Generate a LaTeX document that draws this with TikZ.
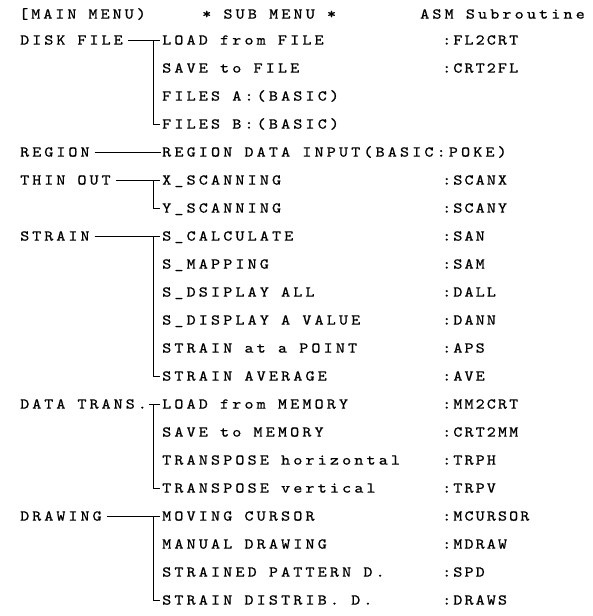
\documentclass[tikz,border=0pt]{standalone}
\usepackage{fontspec}
\usepackage{tikz}
\usetikzlibrary{positioning}
\newfontfamily\mmfont{lmmono10-regular.otf}[LetterSpace=20,FakeStretch=1.15,FakeBold=0.8]
\newfontfamily\smfont{lmmono10-regular.otf}[LetterSpace=21,FakeStretch=1.15,FakeBold=0.8]
\newfontfamily\amfont{lmmono10-regular.otf}[LetterSpace=14,FakeStretch=1.15,FakeBold=0.8]

\begin{document}
\begin{tikzpicture}
    [x=1pt,y=-1pt,
     every node/.style={anchor=west,inner xsep=0pt,inner ysep=0pt,text height=9.2pt,text depth=0pt},
     mm/.style={font=\mmfont\fontsize{15}{17}\selectfont},
     sm/.style={font=\smfont\fontsize{15}{17}\selectfont},
     am/.style={font=\amfont\fontsize{15}{17}\selectfont},
     ln/.style={line width=0.7pt}]
    \useasboundingbox (0,0) rectangle (592,616);
    \coordinate (bx) at (153,0);

    % headings
    \node[mm] (hm) at (19,14)  {[MAIN MENU)};
    \node[sm] (hs) at (202,14) {* SUB MENU *};
    \node[sm] (ha) at (420,14) {ASM Subroutine};

    % main menu
    \node[mm] (nd) at (20,40)  {DISK FILE};
    \node[mm] (nr) at (20,152) {REGION};
    \node[mm] (nt) at (20,180) {THIN OUT};
    \node[mm] (ns) at (20,236) {STRAIN};
    \node[mm] (nx) at (20,404) {DATA TRANS.};
    \node[mm] (nw) at (20,516) {DRAWING};

    % sub menu
    \node[sm] (d0) at (162,40)  {LOAD from FILE};
    \node[sm] (d1) at (162,68)  {SAVE to FILE};
    \node[sm] (d2) at (162,96)  {FILES A:(BASIC)};
    \node[sm] (d3) at (162,124) {FILES B:(BASIC)};
    \node[sm] (r0) at (162,152) {REGION DATA INPUT(BASIC:POKE)};
    \node[sm] (t0) at (162,180) {X\_SCANNING};
    \node[sm] (t1) at (162,208) {Y\_SCANNING};
    \node[sm] (s0) at (162,236) {S\_CALCULATE};
    \node[sm] (s1) at (162,264) {S\_MAPPING};
    \node[sm] (s2) at (162,292) {S\_DSIPLAY ALL};
    \node[sm] (s3) at (162,320) {S\_DISPLAY A VALUE};
    \node[sm] (s4) at (162,348) {STRAIN at a POINT};
    \node[sm] (s5) at (162,376) {STRAIN AVERAGE};
    \node[sm] (x0) at (162,404) {LOAD from MEMORY};
    \node[sm] (x1) at (162,432) {SAVE to MEMORY};
    \node[sm] (x2) at (162,460) {TRANSPOSE horizontal};
    \node[sm] (x3) at (162,488) {TRANSPOSE vertical};
    \node[sm] (w0) at (162,516) {MOVING CURSOR};
    \node[sm] (w1) at (162,544) {MANUAL DRAWING};
    \node[sm] (w2) at (162,572) {STRAINED PATTERN D.};
    \node[sm] (w3) at (162,600) {STRAIN DISTRIB. D.};

    % asm subroutines
    \node[am] (ad0) at (442,40)  {:FL2CRT};
    \node[am] (ad1) at (442,68)  {:CRT2FL};
    \node[am] (at0) at (442,180) {:SCANX};
    \node[am] (at1) at (442,208) {:SCANY};
    \node[am] (as0) at (442,236) {:SAN};
    \node[am] (as1) at (442,264) {:SAM};
    \node[am] (as2) at (442,292) {:DALL};
    \node[am] (as3) at (442,320) {:DANN};
    \node[am] (as4) at (442,348) {:APS};
    \node[am] (as5) at (442,376) {:AVE};
    \node[am] (ax0) at (442,404) {:MM2CRT};
    \node[am] (ax1) at (442,432) {:CRT2MM};
    \node[am] (ax2) at (442,460) {:TRPH};
    \node[am] (ax3) at (442,488) {:TRPV};
    \node[am] (aw0) at (442,516) {:MCURSOR};
    \node[am] (aw1) at (442,544) {:MDRAW};
    \node[am] (aw2) at (442,572) {:SPD};
    \node[am] (aw3) at (442,600) {:DRAWS};

    % brackets
    \draw[ln] ([xshift=5pt]nd.east) -- ([xshift=-2pt]d0.west);
    \draw[ln] (d0.west -| bx) |- ([xshift=-2pt]d3.west);
    \draw[ln] ([xshift=5pt]nr.east) -- ([xshift=-1pt]r0.west);
    \draw[ln] ([xshift=5pt]nt.east) -- ([xshift=-2pt]t0.west);
    \draw[ln] (t0.west -| bx) |- ([xshift=-2pt]t1.west);
    \draw[ln] ([xshift=5pt]ns.east) -- ([xshift=-2pt]s0.west);
    \draw[ln] (s0.west -| bx) |- ([xshift=-2pt]s5.west);
    \draw[ln] ([xshift=2pt]nx.east) -- ([xshift=-2pt]x0.west);
    \draw[ln] (x0.west -| bx) |- ([xshift=-2pt]x3.west);
    \draw[ln] ([xshift=5pt]nw.east) -- ([xshift=-2pt]w0.west);
    \draw[ln] (w0.west -| bx) |- ([xshift=-2pt]w3.west);

  \end{tikzpicture}
\end{document}
